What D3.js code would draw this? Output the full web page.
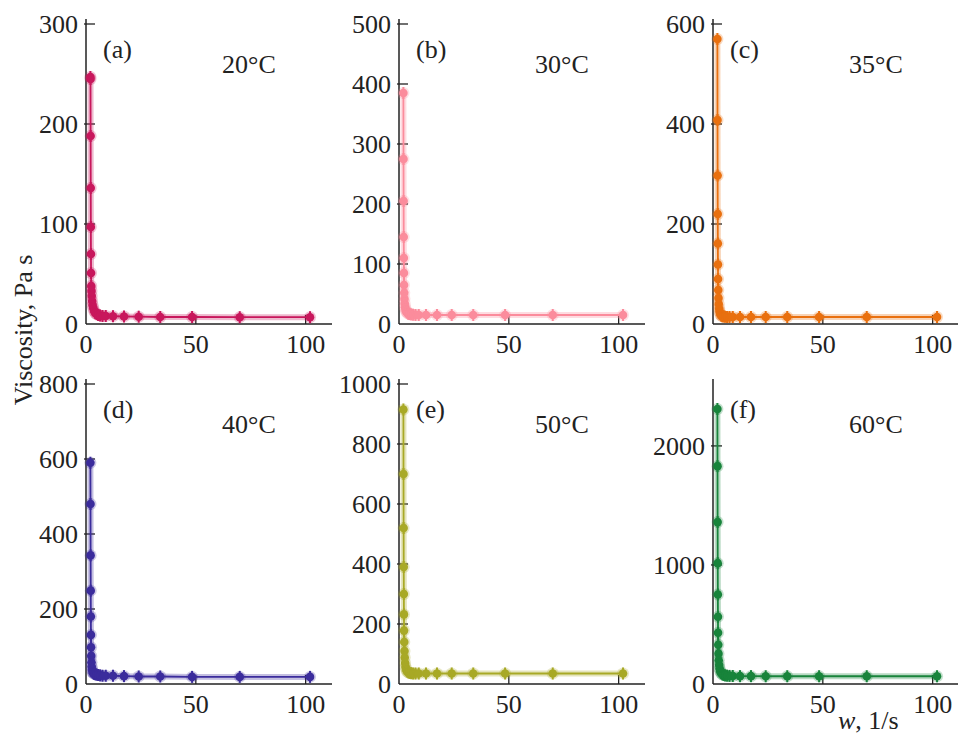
<!DOCTYPE html>
<html lang="en">

<head>
    <meta charset="UTF-8">
    <title>Viscosity vs shear rate</title>
    <script src="https://cdn.jsdelivr.net/npm/d3@7"></script>
    <style>
        * {
            margin: 0;
        }

        body {
            background: #fff;
        }

        text {
            font-family: "Liberation Serif", "Times New Roman", serif;
            fill: #222;
        }
    </style>
</head>

<body>
    <svg id="chart" width="958" height="736"></svg>
    <script>
        // shear rate w, 1/s (same for every panel)
        var shear = [2.0, 2.05, 2.1, 2.15, 2.2, 2.25, 2.3, 2.4, 2.5, 2.6, 2.8, 3.0, 3.3, 3.7, 4.2, 4.8, 5.5, 6.4, 7.5, 9.0, 12.3, 17.3, 24, 33.8, 48.3, 70, 102];

        // viscosity, Pa s
        var visc20 = [247, 245, 188, 136, 97, 70, 51, 38, 33, 28, 23, 19, 16, 13, 11, 10, 9, 8.5, 8, 8, 7.8, 7.5, 7.3, 7, 7, 6.8, 6.8];
        var visc30 = [385, 275, 205, 145, 110, 85, 65, 52, 42, 34, 28, 24, 21, 19, 17, 16.5, 16, 15.5, 15, 15, 15, 15, 15, 15, 15, 15, 15];
        var visc35 = [570, 408, 297, 220, 161, 119, 90, 68, 52, 40, 31, 25, 20, 17, 15.5, 15, 14.5, 14, 14, 14, 14, 14, 14, 14, 14, 14, 14];
        var visc40 = [590, 480, 343, 249, 180, 131, 98, 75, 58, 46, 38, 32, 29, 27, 26, 25, 24, 23, 22, 22, 22, 21, 20, 20, 19, 19, 19];
        var visc50 = [915, 700, 520, 390, 300, 232, 178, 140, 110, 88, 70, 57, 48, 42, 39, 37, 36, 35, 35, 35, 35, 35, 35, 35, 35, 35, 35];
        var visc60 = [2310, 1830, 1360, 1015, 752, 565, 430, 330, 255, 200, 160, 130, 108, 92, 82, 76, 72, 70, 68, 67, 66, 66, 65, 65, 65, 65, 65];

        var labels = ["(a)", "(b)", "(c)", "(d)", "(e)", "(f)"];
        var temps = ["20°C", "30°C", "35°C", "40°C", "50°C", "60°C"];
        var xTicks = [0, 50, 100];
        var yTicks = [
            [0, 100, 200, 300],
            [0, 100, 200, 300, 400, 500],
            [0, 200, 400, 600],
            [0, 200, 400, 600, 800],
            [0, 200, 400, 600, 800, 1000],
            [0, 1000, 2000]
        ];
        var yMax = [300, 500, 600, 800, 1000, 2520];
        var colors = ["#c8175c", "#fb8c9c", "#e9700f", "#3b2c9c", "#a8a926", "#18843b"];

        var series = [visc20, visc30, visc35, visc40, visc50, visc60];

        var svg = d3.select("#chart");

        // panel origins (x of y-axis, y of x-axis)
        var colX = [86, 399, 713];
        var rowY = [324, 684];
        var plotH = 300;
        var fs = 26;

        var x = d3.scaleLinear().domain([0, 112]).range([0, 246]);

        series.forEach(function (vals, i) {
            var ox = colX[i % 3], oy = rowY[Math.floor(i / 3)];
            var y = d3.scaleLinear().domain([0, yMax[i]]).range([0, -plotH]);
            var g = svg.append("g").attr("transform", "translate(" + ox + "," + oy + ")");
            var right = i % 3 == 2 ? 958 - ox : x.range()[1];

            // axes
            g.append("line").attr("x1", 0).attr("x2", right).attr("y1", 0).attr("y2", 0)
                .attr("stroke", "#222").attr("stroke-width", 1.5);
            g.append("line").attr("x1", 0).attr("x2", 0).attr("y1", 0).attr("y2", -plotH - 5)
                .attr("stroke", "#222").attr("stroke-width", 1.5);

            xTicks.forEach(function (t) {
                if (t > 0) {
                    g.append("line").attr("x1", x(t)).attr("x2", x(t)).attr("y1", 0).attr("y2", -9)
                        .attr("stroke", "#222").attr("stroke-width", 1.3);
                }
                g.append("text").attr("x", x(t)).attr("y", 29)
                    .attr("text-anchor", "middle").attr("font-size", fs).text(t);
            });

            yTicks[i].forEach(function (t) {
                if (t > 0) {
                    g.append("line").attr("x1", -2).attr("x2", 9).attr("y1", y(t)).attr("y2", y(t))
                        .attr("stroke", "#222").attr("stroke-width", 1.3);
                }
                g.append("text").attr("x", -8).attr("y", y(t)).attr("dy", "0.34em")
                    .attr("text-anchor", "end").attr("font-size", fs).text(t);
            });

            // data
            var pts = vals.map(function (v, j) { return [shear[j], v]; });
            var line = d3.line().x(function (d) { return x(d[0]); }).y(function (d) { return y(d[1]); });
            var c = colors[i];

            g.append("path").attr("d", line(pts)).attr("fill", "none")
                .attr("stroke", c).attr("stroke-opacity", 0.3).attr("stroke-width", 6);
            g.append("path").attr("d", line(pts)).attr("fill", "none")
                .attr("stroke", c).attr("stroke-width", 1.8);

            var m = g.selectAll("g.pt").data(pts).enter().append("g").attr("class", "pt")
                .attr("transform", function (d) { return "translate(" + x(d[0]) + "," + y(d[1]) + ")"; });
            m.append("circle").attr("r", 6).attr("fill", c).attr("fill-opacity", 0.25);
            m.append("line").attr("y1", -6).attr("y2", 6).attr("stroke", c).attr("stroke-width", 2);
            m.append("circle").attr("r", 4.3).attr("fill", c);

            // panel labels
            g.append("text").attr("x", 17).attr("y", -266).attr("font-size", fs).text(labels[i]);
            g.append("text").attr("x", 136).attr("y", -251).attr("font-size", fs).text(temps[i]);
        });

        // axis titles
        svg.append("text").attr("transform", "translate(32,330) rotate(-90)")
            .attr("text-anchor", "middle").attr("font-size", fs).text("Viscosity, Pa s");

        var xt = svg.append("text").attr("x", 838).attr("y", 729).attr("font-size", fs);
        xt.append("tspan").attr("font-style", "italic").text("w");
        xt.append("tspan").text(", 1/s");
    </script>
</body>

</html>
